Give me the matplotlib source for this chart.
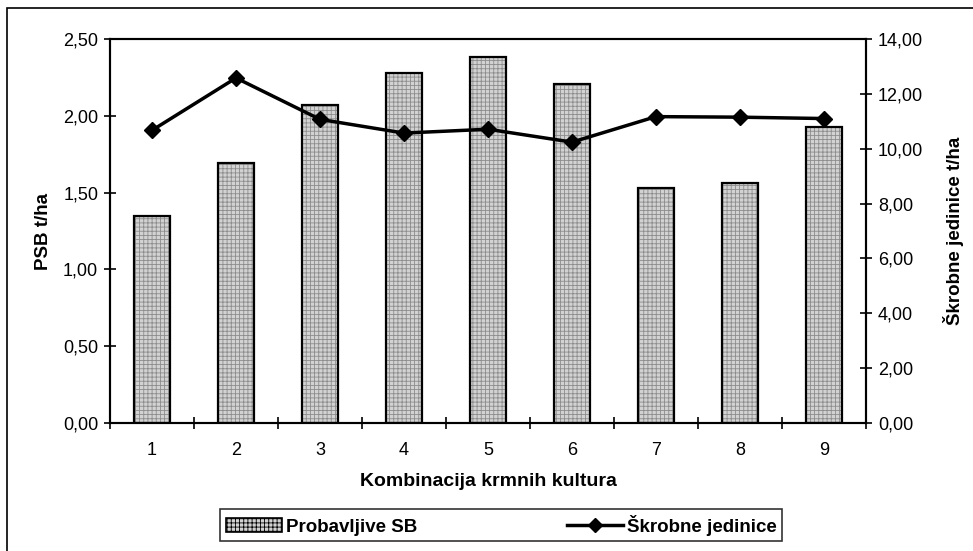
import matplotlib
matplotlib.use("Agg")
import matplotlib.pyplot as plt
from matplotlib.patches import Rectangle
from matplotlib.ticker import FuncFormatter
import numpy as np

plt.rcParams['font.family'] = ['Liberation Sans', 'DejaVu Sans']
plt.rcParams['hatch.linewidth'] = 0.6

kombinacije = ['1', '2', '3', '4', '5', '6', '7', '8', '9']
psb = [1.35, 1.69, 2.07, 2.28, 2.38, 2.21, 1.53, 1.56, 1.93]
skrobne = [10.67, 12.58, 11.07, 10.57, 10.71, 10.24, 11.17, 11.15, 11.10]

fig = plt.figure(figsize=(9.73, 5.51), dpi=100)
ax = fig.add_axes([110/973, 1 - 423/551, (866 - 110)/973, (423 - 39)/551])
ax2 = ax.twinx()

x = np.arange(len(kombinacije))
# fill with fine grid, then black outline
ax.bar(x, psb, width=0.42, color='#d2d2d2', hatch='++++', edgecolor='#8c8c8c', linewidth=0)
ax.bar(x, psb, width=0.42, fill=False, edgecolor='black', linewidth=1.6)
ax2.plot(x, skrobne, color='black', linewidth=2.5, marker='D', markersize=8)

ax.set_xlim(-0.5, 8.5)
ax.set_ylim(0, 2.5)
ax2.set_ylim(0, 14)
ax.set_yticks(np.arange(0, 2.51, 0.5))
ax2.set_yticks(np.arange(0, 14.01, 2))
comma = FuncFormatter(lambda v, p: f"{v:.2f}".replace('.', ','))
ax.yaxis.set_major_formatter(comma)
ax2.yaxis.set_major_formatter(comma)

ax.set_xticks(x)
ax.set_xticklabels(kombinacije)
ax.set_xticks(np.arange(-0.5, 9.0, 1), minor=True)
ax.tick_params(axis='x', which='major', length=0, pad=14, labelsize=13)
ax.tick_params(axis='x', which='minor', direction='inout', length=9, width=1.2)
ax.tick_params(axis='y', direction='inout', length=9, width=1.2, labelsize=13, pad=4)
ax2.tick_params(axis='y', direction='inout', length=9, width=1.2, labelsize=13, pad=4)

for a in (ax, ax2):
    for s in a.spines.values():
        s.set_linewidth(1.5)

ax.set_xlabel('Kombinacija krmnih kultura', fontsize=14, fontweight='bold', labelpad=10)
ax.set_ylabel('PSB t/ha', fontsize=13.5, fontweight='bold', labelpad=8)
ax2.set_ylabel('Škrobne jedinice t/ha', fontsize=13.5, fontweight='bold', labelpad=14)

h1 = Rectangle((0, 0), 1, 1, facecolor='#d2d2d2', hatch='++++', edgecolor='black', linewidth=1.2)
h2, = ax2.plot([], [], color='black', linewidth=2.5, marker='D', markersize=7)
leg = fig.legend([h1, h2], ['Probavljive SB', 'Škrobne jedinice'], ncol=2,
                 loc='center', bbox_to_anchor=(501/973, 1 - 525/551),
                 frameon=True, fancybox=False, edgecolor='black',
                 prop={'weight': 'bold', 'size': 13.5}, columnspacing=8.0,
                 handlelength=3.0, handletextpad=0.2, borderpad=0.3,
                 borderaxespad=0)
leg.get_frame().set_linewidth(1.2)

# outer frame
fig.patches.append(Rectangle((7/973, -0.05), 1.2, 1 - 8/551 + 0.05, transform=fig.transFigure,
                             fill=False, edgecolor='black', linewidth=1.2))

fig.savefig('out.png', dpi=100)
